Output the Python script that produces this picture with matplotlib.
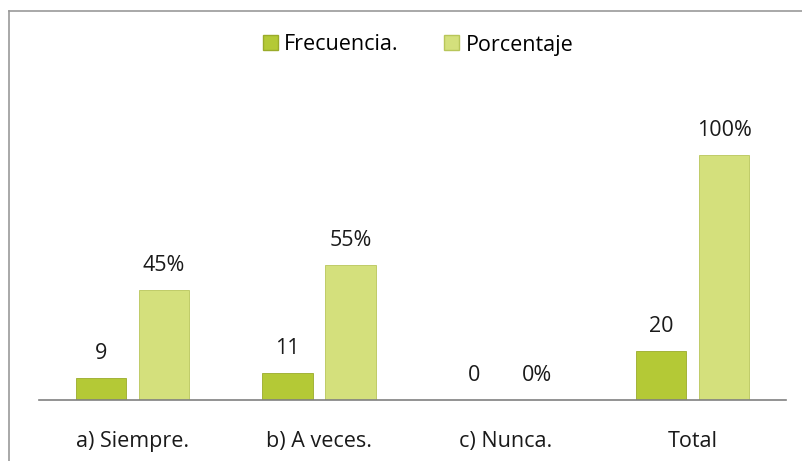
import numpy as np
import matplotlib.pyplot as plt
from matplotlib.lines import Line2D
from matplotlib.patches import Patch

categories = ["a) Siempre.", "b) A veces.", "c) Nunca.", "Total"]
frecuencia = [9, 11, 0, 20]
porcentaje = [45, 55, 0, 100]
freq_labels = ["9", "11", "0", "20"]
pct_labels = ["45%", "55%", "0%", "100%"]

W, H = 803, 461
c_freq = "#b4c936"
c_pct = "#d4e07c"
edge_freq = "#9aab2a"
edge_pct = "#b8c65a"
fs = 15.5

plt.rcParams["font.family"] = ["Open Sans", "DejaVu Sans"]

fig = plt.figure(figsize=(W / 100, H / 100), dpi=100)

# plot area in pixel coordinates
left, right, base, top = 39, 786, 400, 106
ax = fig.add_axes([left / W, (H - base) / H, (right - left) / W, (base - top) / H])

x = np.arange(len(categories))
bw = 0.27
off = 0.169
ax.bar(x - off, frecuencia, bw, color=c_freq, edgecolor=edge_freq, linewidth=0.6)
ax.bar(x + off, porcentaje, bw, color=c_pct, edgecolor=edge_pct, linewidth=0.6)

for i in range(len(categories)):
    ax.text(x[i] - off, frecuencia[i] + 5.8, freq_labels[i], ha="center", va="bottom", fontsize=fs, color="#1a1a1a")
    ax.text(x[i] + off, porcentaje[i] + 5.8, pct_labels[i], ha="center", va="bottom", fontsize=fs, color="#1a1a1a")

ax.set_xlim(-0.5, len(categories) - 0.5)
ax.set_ylim(0, 120)
ax.set_yticks([])
ax.set_xticks(x)
ax.set_xticklabels(categories, fontsize=fs, color="#1a1a1a")
ax.tick_params(axis="x", length=0, pad=22)
for s in ["top", "right", "left"]:
    ax.spines[s].set_visible(False)
ax.spines["bottom"].set_color("#808080")
ax.spines["bottom"].set_linewidth(1.2)

handles = [Patch(facecolor=c_freq, edgecolor=edge_freq), Patch(facecolor=c_pct, edgecolor=edge_pct)]
fig.legend(handles, ["Frecuencia.", "Porcentaje"], loc="center", bbox_to_anchor=(418 / W, 1 - 45 / H),
           ncol=2, frameon=False, fontsize=fs, handlelength=0.7, handleheight=0.7,
           handletextpad=0.3, columnspacing=2.1)

# chart frame (only top and left edges visible in the scan)
fig.add_artist(Line2D([9 / W, 1], [1 - 11 / H, 1 - 11 / H], color="#999999", lw=1.2))
fig.add_artist(Line2D([9 / W, 9 / W], [0, 1 - 11 / H], color="#999999", lw=1.2))

fig.savefig("out.png", dpi=100)
